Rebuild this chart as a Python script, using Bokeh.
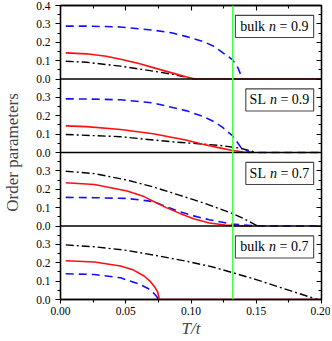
from bokeh.plotting import figure
from bokeh.models import (Range1d, FixedTicker, LinearAxis, Span, BoxAnnotation, Label,
                          PrintfTickFormatter, CustomJSTickFormatter)
from bokeh.embed import file_html
from bokeh.resources import INLINE

# ---------------- data (T/t, order parameters) ----------------
panel_names = ["bulk", "SL", "SL", "bulk"]
panel_fill = ["0.9", "0.9", "0.7", "0.7"]

# bulk n = 0.9
b09_T_red = [0.004, 0.02, 0.035, 0.046, 0.06, 0.071, 0.086, 0.096, 0.103, 0.2]
b09_red = [0.142, 0.137, 0.124, 0.107, 0.084, 0.062, 0.032, 0.012, 0.0, 0.0]
b09_T_blue = [0.004, 0.02, 0.046, 0.071, 0.086, 0.096, 0.109, 0.117, 0.124, 0.132, 0.136, 0.1395]
b09_blue = [0.288, 0.288, 0.283, 0.266, 0.25, 0.232, 0.205, 0.18, 0.145, 0.104, 0.06, 0.0]
b09_T_black = [0.004, 0.02, 0.046, 0.071, 0.086, 0.096, 0.102]
b09_black = [0.097, 0.091, 0.07, 0.043, 0.025, 0.01, 0.0]

# SL n = 0.9
s09_T_red = [0.004, 0.02, 0.046, 0.071, 0.086, 0.096, 0.109, 0.12, 0.131, 0.14, 0.146]
s09_red = [0.145, 0.141, 0.125, 0.102, 0.082, 0.068, 0.045, 0.028, 0.012, 0.003, 0.0]
s09_T_blue = [0.004, 0.02, 0.046, 0.071, 0.096, 0.109, 0.117, 0.124, 0.132, 0.139, 0.145, 0.148, 0.2]
s09_blue = [0.292, 0.291, 0.287, 0.27, 0.228, 0.197, 0.17, 0.138, 0.09, 0.02, 0.003, 0.0, 0.0]
s09_T_black = [0.004, 0.046, 0.071, 0.086, 0.109, 0.124, 0.137, 0.145, 0.15]
s09_black = [0.098, 0.086, 0.068, 0.058, 0.046, 0.037, 0.024, 0.01, 0.0]

# SL n = 0.7
s07_T_red = [0.004, 0.026, 0.051, 0.064, 0.071, 0.081, 0.091, 0.102, 0.114, 0.126, 0.136, 0.146]
s07_red = [0.235, 0.226, 0.19, 0.16, 0.135, 0.1, 0.07, 0.04, 0.016, 0.005, 0.001, 0.0]
s07_T_blue = [0.004, 0.026, 0.051, 0.071, 0.081, 0.091, 0.102, 0.114, 0.131, 0.146, 0.155, 0.2]
s07_blue = [0.156, 0.154, 0.15, 0.133, 0.105, 0.079, 0.055, 0.034, 0.011, 0.002, 0.0, 0.0]
s07_T_black = [0.004, 0.026, 0.051, 0.071, 0.091, 0.111, 0.131, 0.141, 0.151]
s07_black = [0.298, 0.285, 0.25, 0.213, 0.168, 0.122, 0.07, 0.038, 0.0]

# bulk n = 0.7
b07_T_red = [0.004, 0.026, 0.046, 0.056, 0.064, 0.069, 0.072, 0.0745, 0.0757, 0.2]
b07_red = [0.211, 0.204, 0.182, 0.16, 0.128, 0.097, 0.07, 0.04, 0.0, 0.0]
b07_T_blue = [0.004, 0.026, 0.046, 0.061, 0.067, 0.071, 0.0735, 0.075]
b07_blue = [0.14, 0.136, 0.118, 0.082, 0.06, 0.038, 0.018, 0.0]
b07_T_black = [0.004, 0.026, 0.051, 0.079, 0.1, 0.116, 0.132, 0.15, 0.176, 0.197]
b07_black = [0.297, 0.287, 0.267, 0.232, 0.203, 0.178, 0.146, 0.108, 0.048, 0.0]

T_green = 0.132

x_ticks = [0.0, 0.05, 0.1, 0.15, 0.2]
x_minor = [0.025, 0.075, 0.125, 0.175]

series = [
    (b09_T_black, b09_black, b09_T_blue, b09_blue, b09_T_red, b09_red),
    (s09_T_black, s09_black, s09_T_blue, s09_blue, s09_T_red, s09_red),
    (s07_T_black, s07_black, s07_T_blue, s07_blue, s07_T_red, s07_red),
    (b07_T_black, b07_black, b07_T_blue, b07_blue, b07_T_red, b07_red),
]

# ---------------- layout ----------------
FONT = "Liberation Serif"
NP = 4              # stacked panels
PH = 0.4            # height of one panel in its own units
box_left = [0.134, 0.142, 0.142, 0.134]
box_right = 0.194
box_top, box_bot = 0.346, 0.226
EM = {"b": .5, "u": .5, "l": .278, "k": .5, "S": .556, "L": .611}
LSIZE = 14

y_major = [round(0.1 * i, 1) for i in range(NP * 4 + 1)]
y_minor_t = [round(0.05 + 0.1 * i, 2) for i in range(NP * 4)]

p = figure(width=330, height=340, x_range=Range1d(0, 0.2), y_range=Range1d(0, NP * PH),
           output_backend="svg", toolbar_location=None,
           x_axis_location=None, y_axis_location=None,
           min_border_left=55, min_border_right=9, min_border_top=5, min_border_bottom=40)
p.grid.visible = False
p.outline_line_color = "black"
p.outline_line_width = 1.3

# one y range per panel: panel i (from top) shows 0..0.4 in its own slot
for i in range(NP):
    slot = NP - 1 - i
    p.extra_y_ranges[f"p{i}"] = Range1d(-slot * PH, (NP - slot) * PH)


def style_axis(ax, out=True):
    ax.axis_line_width = 1.3
    ax.major_tick_line_width = 1.1
    ax.minor_tick_line_width = 1.1
    if out:
        ax.major_tick_out, ax.major_tick_in = 5, 0
        ax.minor_tick_out, ax.minor_tick_in = 3, 0
    else:
        ax.major_tick_out, ax.major_tick_in = 0, 5
        ax.minor_tick_out, ax.minor_tick_in = 0, 3
    ax.major_label_text_font = FONT
    ax.major_label_text_font_size = "11.5px"
    ax.major_label_text_color = "black"
    ax.major_label_standoff = 3


yl = LinearAxis(ticker=FixedTicker(ticks=y_major, minor_ticks=y_minor_t),
                formatter=CustomJSTickFormatter(code="""
                    const k = Math.round(tick * 10);
                    if (k >= 16) return "0.4";
                    return ((k % 4) / 10).toFixed(1);
                """))
style_axis(yl, out=True)
yl.major_label_standoff = 5
yl.axis_label = "Order parameters"
yl.axis_label_text_font = FONT
yl.axis_label_text_font_style = "normal"
yl.axis_label_text_font_size = "17px"
yl.axis_label_standoff = 11
p.add_layout(yl, "left")

yr = LinearAxis(ticker=FixedTicker(ticks=y_major, minor_ticks=y_minor_t),
                formatter=CustomJSTickFormatter(code="return ''"))
style_axis(yr, out=False)
yr.major_label_text_font_size = "0px"
yr.major_label_standoff = 0
p.add_layout(yr, "right")

xt = LinearAxis(ticker=FixedTicker(ticks=x_ticks, minor_ticks=x_minor),
                formatter=CustomJSTickFormatter(code="return ''"))
style_axis(xt, out=False)
xt.major_label_text_font_size = "0px"
xt.major_label_standoff = 0
p.add_layout(xt, "above")

xb = LinearAxis(ticker=FixedTicker(ticks=x_ticks, minor_ticks=x_minor),
                formatter=PrintfTickFormatter(format="%.2f"))
style_axis(xb, out=True)
xb.major_tick_out = 4
xb.major_label_standoff = 3
xb.axis_label = "T/t"
xb.axis_label_text_font = FONT
xb.axis_label_text_font_style = "italic"
xb.axis_label_text_font_size = "17px"
xb.axis_label_standoff = 1
p.add_layout(xb, "below")

# panel separators
for i in range(1, NP):
    p.add_layout(Span(location=i * PH, dimension="width", line_color="black", line_width=1.4))

for i in range(NP):
    rn = f"p{i}"
    Tk, k, Tb, b, Tr, r = series[i]
    p.line(Tk, k, line_color="black", line_width=1.4, line_dash="8 3 2 3", y_range_name=rn)
    p.line(Tb, b, line_color="#1010ff", line_width=1.6, line_dash="8 5", y_range_name=rn)
    p.line(Tr, r, line_color="#ff1010", line_width=1.6, y_range_name=rn)

    p.add_layout(BoxAnnotation(left=box_left[i], right=box_right, bottom=box_bot, top=box_top,
                               fill_color="white", fill_alpha=1.0, line_color="#444444",
                               line_width=1.1, line_alpha=1.0, y_range_name=rn))
    word = panel_names[i]
    wl = sum(EM[c] for c in word) * LSIZE
    wr = 2.064 * LSIZE
    dx = -(wr - wl) / 2.0
    cx = (box_left[i] + box_right) / 2.0
    cy = (box_top + box_bot) / 2.0
    common = dict(x=cx, y=cy, text_font=FONT, text_font_size=f"{LSIZE}px",
                  text_baseline="middle", text_color="black", y_range_name=rn)
    p.add_layout(Label(text=word, text_align="right", x_offset=dx - 7.5, **common))
    p.add_layout(Label(text="n", text_align="center", x_offset=dx, text_font_style="italic", **common))
    p.add_layout(Label(text="= " + panel_fill[i], text_align="left", x_offset=dx + 7.0, **common))

p.add_layout(Span(location=T_green, dimension="height", line_color="#44ff44", line_width=1.6))

open("out.html", "w").write(file_html(p, INLINE))
